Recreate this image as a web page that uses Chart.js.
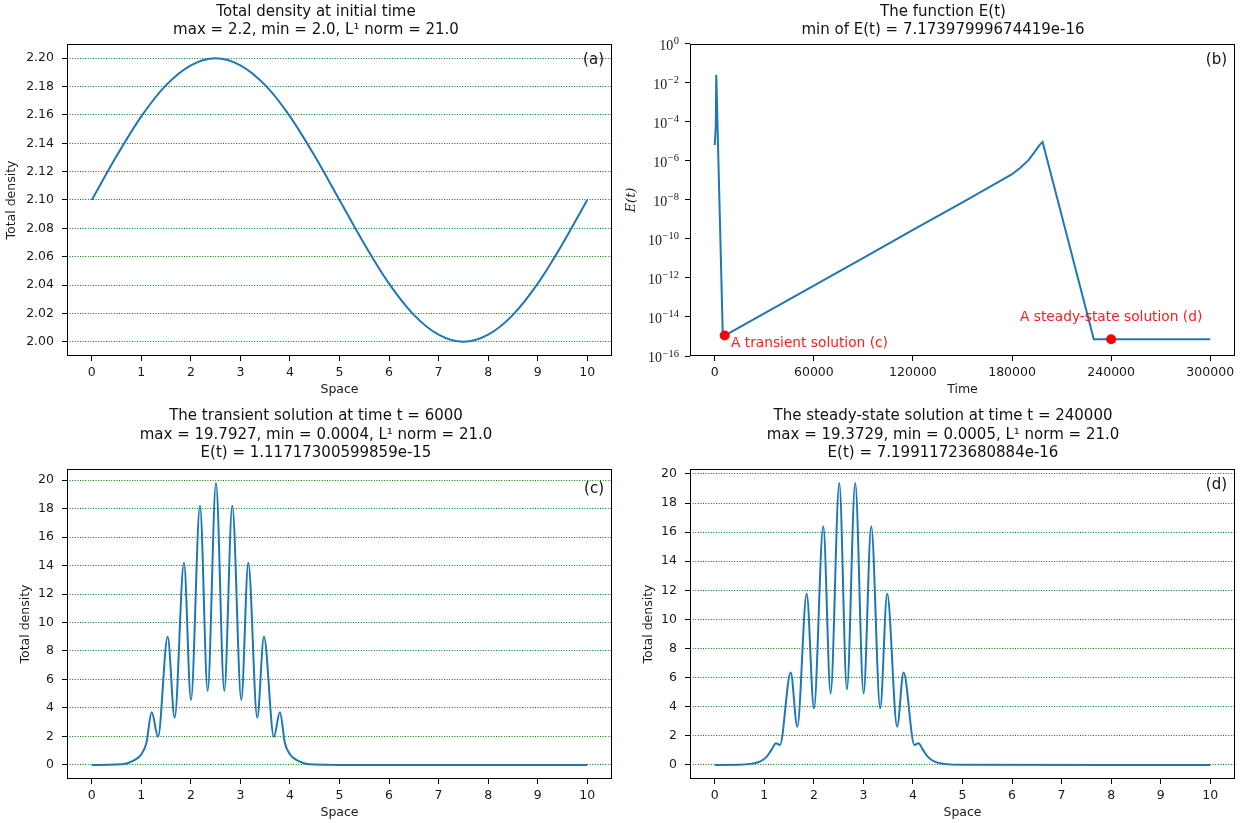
<!DOCTYPE html>
<html lang="en">
<head>
<meta charset="UTF-8">
<title>Total density and E(t)</title>
<style>
  body { margin: 0; background: #fff; }
  .panel { position: absolute; }
</style>
</head>
<body>
<div class="panel" style="left:0;top:0;width:616px;height:400px"><canvas id="chartA"></canvas></div>
<div class="panel" style="left:616px;top:0;width:641px;height:400px"><canvas id="chartB"></canvas></div>
<div class="panel" style="left:0;top:400px;width:616px;height:423px"><canvas id="chartC"></canvas></div>
<div class="panel" style="left:616px;top:400px;width:641px;height:423px"><canvas id="chartD"></canvas></div>

<script src="https://cdn.jsdelivr.net/npm/chart.js"></script>
<script>
// ---- data ----
// (a) total density at initial time
const spaceA = [0, 0.5, 1, 1.5, 2, 2.5, 3, 3.5, 4, 4.5, 5, 5.5, 6, 6.5, 7, 7.5, 8, 8.5, 9, 9.5, 10];
const densityA = [2.100, 2.131, 2.159, 2.181, 2.195, 2.200, 2.195, 2.181, 2.159, 2.131, 2.100,
                  2.069, 2.041, 2.019, 2.005, 2.000, 2.005, 2.019, 2.041, 2.069, 2.100];

// (b) E(t) over time
const timeB = [0, 600, 900, 4800, 6000, 30000, 60000, 90000, 120000, 150000, 175000, 180000,
               185000, 190000, 194000, 196500, 198500, 229500, 240000, 270000, 300000];
const energyB = [6.6e-6, 5.5e-5, 2.6e-2, 1.8e-15, 1.117e-15, 1.55e-14, 4.1e-13, 1.07e-11, 2.9e-10, 7.6e-9, 1.2e-7, 2.1e-7,
                 4.5e-7, 1.1e-6, 3.2e-6, 6.3e-6, 9.5e-6, 7.17e-16, 7.2e-16, 7.2e-16, 7.2e-16];
const markTimeB = [6000, 240000];
const markEnergyB = [1.11717300599859e-15, 7.19911723680884e-16];

// (c) transient solution, t = 6000
const spaceC = [0, 0.5, 0.7, 0.8, 0.9, 1.0, 1.1, 1.21, 1.337, 1.532, 1.673, 1.861, 2.002, 2.184, 2.339, 2.507,
                2.675, 2.836, 3.018, 3.159, 3.34, 3.475, 3.676, 3.797, 3.9, 4.0, 4.1, 4.2, 4.3, 4.5, 5, 10];
const densityC = [0, 0.02, 0.1, 0.23, 0.42, 0.75, 1.5, 3.69, 1.98, 9.0, 3.31, 14.2, 4.55, 18.2, 5.2, 19.79,
                  5.2, 18.2, 4.55, 14.2, 3.31, 9.0, 1.98, 3.69, 1.5, 0.75, 0.42, 0.23, 0.1, 0.02, 0.001, 0.0004];

// (d) steady-state solution, t = 240000
const spaceD = [0, 0.5, 0.71, 0.91, 1.05, 1.15, 1.236, 1.315, 1.532, 1.666, 1.855, 2.002, 2.19, 2.338, 2.513,
                2.667, 2.835, 3.004, 3.158, 3.339, 3.48, 3.681, 3.81, 4.03, 4.11, 4.196, 4.296, 4.436, 4.636, 5, 10];
const densityD = [0, 0.01, 0.07, 0.23, 0.57, 1.07, 1.49, 1.37, 6.35, 2.63, 11.77, 3.89, 16.41, 4.91, 19.37,
                  5.19, 19.37, 4.91, 16.41, 3.89, 11.77, 2.63, 6.35, 1.37, 1.49, 1.07, 0.57, 0.23, 0.07, 0.01, 0.0005];

// tick labels
const spaceTicks = [0, 1, 2, 3, 4, 5, 6, 7, 8, 9, 10];
const densityTicksA = [2.00, 2.02, 2.04, 2.06, 2.08, 2.10, 2.12, 2.14, 2.16, 2.18, 2.20];
const densityTicksCD = [0, 2, 4, 6, 8, 10, 12, 14, 16, 18, 20];
const timeTicks = [0, 60000, 120000, 180000, 240000, 300000];
const energyTicks = [1e-16, 1e-14, 1e-12, 1e-10, 1e-8, 1e-6, 1e-4, 1e-2, 1];

// ---- helpers ----
Chart.defaults.animation = false;
Chart.defaults.font.family = '"DejaVu Sans", sans-serif';
Chart.defaults.color = '#1a1a1a';

const BLUE = '#1f77b4';
const pts = (xs, ys) => xs.map((x, i) => ({x: x, y: ys[i]}));

// black box round the plot area, like matplotlib spines
const frame = {
    id: 'frame',
    afterDatasetsDraw(chart) {
        const {ctx, chartArea: a} = chart;
        ctx.save();
        ctx.strokeStyle = '#000';
        ctx.lineWidth = 1;
        ctx.strokeRect(Math.round(a.left) + 0.5, Math.round(a.top) + 0.5,
                       Math.round(a.right - a.left) - 1, Math.round(a.bottom - a.top) - 1);
        ctx.restore();
    }
};

// "(a)" style tag in the top right corner
const panelTag = {
    id: 'panelTag',
    afterDraw(chart, args, opts) {
        const {ctx, chartArea: a} = chart;
        ctx.save();
        ctx.font = '15px "DejaVu Sans"';
        ctx.fillStyle = '#111';
        ctx.textAlign = 'right';
        ctx.textBaseline = 'middle';
        ctx.fillText(opts.text, a.right - 8, a.top + opts.dy);
        ctx.restore();
    }
};

// red notes in panel (b), anchored in data space
const notes = {
    id: 'notes',
    afterDatasetsDraw(chart, args, opts) {
        const {ctx, scales} = chart;
        ctx.save();
        ctx.font = '13.75px "DejaVu Sans"';
        ctx.fillStyle = '#ff1a1a';
        ctx.textBaseline = 'middle';
        opts.items.forEach(n => {
            ctx.textAlign = n.align;
            ctx.fillText(n.text, scales.x.getPixelForValue(n.x), scales.y.getPixelForValue(n.y));
        });
        ctx.restore();
    }
};

// 10 with a raised exponent for the log axis of (b)
const powerLabels = {
    id: 'powerLabels',
    afterDraw(chart) {
        const {ctx, scales: {y}} = chart;
        const right = y.right - 11;
        ctx.save();
        ctx.fillStyle = '#1a1a1a';
        ctx.textAlign = 'right';
        ctx.textBaseline = 'alphabetic';
        y.ticks.forEach(t => {
            const py = y.getPixelForValue(t.value);
            const e = String(Math.round(Math.log10(t.value))).replace('-', '\u2212');
            ctx.font = '10.5px "Liberation Serif", serif';
            const ew = ctx.measureText(e).width;
            ctx.fillText(e, right, py + 0.5);
            ctx.font = '14px "Liberation Serif", serif';
            ctx.fillText('10', right - ew - 0.5, py + 6);
        });
        ctx.restore();
    }
};

function xAxis(min, max, ticks, label) {
    return {
        type: 'linear', min: min, max: max,
        afterBuildTicks: s => { s.ticks = ticks.map(v => ({value: v})); },
        afterFit: s => { s.height = 44; },
        grid: {drawOnChartArea: false, tickColor: '#000', tickLength: 5, tickWidth: 1},
        border: {display: false},
        ticks: {font: {size: 12.5}, padding: 4, maxRotation: 0, autoSkip: false, callback: v => String(v)},
        title: {display: true, text: label, font: {size: 12.5}, padding: {top: 0, bottom: 2.5}}
    };
}

function yDensity(min, max, ticks, width, titleOffset, fmt, withGrid) {
    return {
        type: 'linear', min: min, max: max,
        afterBuildTicks: s => { s.ticks = ticks.map(v => ({value: v})); },
        afterFit: s => { s.width = width; },
        grid: {drawOnChartArea: withGrid, color: '#008000', lineWidth: 1,
               tickColor: '#000', tickLength: 5, tickWidth: 1, tickBorderDash: []},
        border: {display: false, dash: [1, 1.6]},
        ticks: {font: {size: 12.5}, padding: 8, autoSkip: false, callback: fmt},
        title: {display: true, text: 'Total density', font: {size: 12.5}, padding: {top: titleOffset, bottom: 0}}
    };
}

// empty strip on the right so the title can be centred on its half of the figure
function spacer(width) {
    return {
        position: 'right', display: true,
        afterFit: s => { s.width = width; },
        grid: {display: false, drawTicks: false},
        ticks: {display: false},
        border: {display: false}
    };
}

function titleOpts(lines, top, bottom) {
    return {display: true, text: lines, color: '#111',
            font: {size: 15, weight: 'normal', lineHeight: 1.233},
            padding: {top: top, bottom: bottom}};
}

function densityChart(id, xs, ys, title, yMin, yMax, yTicks, fmt, yWidth, yTitleOffset, rightPad, spacerWidth, tag, tagDy, titlePad) {
    return new Chart(document.getElementById(id), {
        type: 'scatter',
        data: {
            datasets: [{
                data: pts(xs, ys),
                showLine: true,
                borderColor: BLUE,
                borderWidth: 2,
                pointRadius: 0,
                cubicInterpolationMode: 'monotone'
            }]
        },
        options: {
            responsive: true,
            maintainAspectRatio: false,
            layout: {padding: {left: 0, right: rightPad, top: 0, bottom: 0}},
            plugins: {
                legend: {display: false},
                tooltip: {enabled: false},
                title: titleOpts(title, titlePad[0], titlePad[1]),
                panelTag: {text: tag, dy: tagDy}
            },
            scales: {
                x: xAxis(-0.5, 10.5, spaceTicks, 'Space'),
                y: yDensity(yMin, yMax, yTicks, yWidth, yTitleOffset, fmt, true),
                yR: spacer(spacerWidth)
            }
        },
        plugins: [frame, panelTag]
    });
}

// ---- (a) ----
densityChart('chartA', spaceA, densityA,
    ['Total density at initial time', 'max = 2.2, min = 2.0, L\u00B9 norm = 21.0'],
    1.99, 2.21, densityTicksA, v => v.toFixed(2), 67, 4.5, -16, 20, '(a)', 16, [2.75, 4.25]);

// ---- (b) ----
const yB = yDensity(1e-16, 1, energyTicks, 74, 7.9, v => '', false);
yB.type = 'logarithmic';
yB.ticks.display = false;
yB.title = {display: true, text: 'E(t)', font: {family: '"DejaVu Serif", serif', style: 'italic', size: 13},
            padding: {top: 7.6, bottom: 0}};

new Chart(document.getElementById('chartB'), {
    type: 'scatter',
    data: {
        datasets: [
            {
                data: pts(markTimeB, markEnergyB),
                pointRadius: 5,
                pointBackgroundColor: '#ff0000',
                pointBorderWidth: 0,
                order: 0
            },
            {
                data: pts(timeB, energyB),
                showLine: true,
                borderColor: BLUE,
                borderWidth: 2,
                pointRadius: 0,
                tension: 0,
                order: 1
            }
        ]
    },
    options: {
        responsive: true,
        maintainAspectRatio: false,
        layout: {padding: {left: 0, right: -13, top: 0, bottom: 0}},
        plugins: {
            legend: {display: false},
            tooltip: {enabled: false},
            title: titleOpts(['The function E(t)', 'min of E(t) = 7.17397999674419e-16'], 2.75, 4.25),
            panelTag: {text: '(b)', dy: 16.5},
            notes: {items: [
                {text: 'A transient solution (c)', x: 9800, y: 4.2e-16, align: 'left'},
                {text: 'A steady-state solution (d)', x: 240000, y: 1.0e-14, align: 'center'}
            ]}
        },
        scales: {
            x: xAxis(-15000, 315000, timeTicks, 'Time'),
            y: yB,
            yR: spacer(35)
        }
    },
    plugins: [frame, panelTag, notes, powerLabels]
});

// ---- (c) ----
densityChart('chartC', spaceC, densityC,
    ['The transient solution at time t = 6000',
     'max = 19.7927, min = 0.0004, L\u00B9 norm = 21.0',
     'E(t) = 1.11717300599859e-15'],
    -0.99, 20.78, densityTicksCD, v => String(v), 67, 18.5, -16, 20, '(c)', 20.5, [7.25, 6.25]);

// ---- (d) ----
densityChart('chartD', spaceD, densityD,
    ['The steady-state solution at time t = 240000',
     'max = 19.3729, min = 0.0005, L\u00B9 norm = 21.0',
     'E(t) = 7.19911723680884e-16'],
    -0.969, 20.34, densityTicksCD, v => String(v), 74, 25.5, -13, 35, '(d)', 16, [7.25, 6.25]);
</script>
</body>
</html>
